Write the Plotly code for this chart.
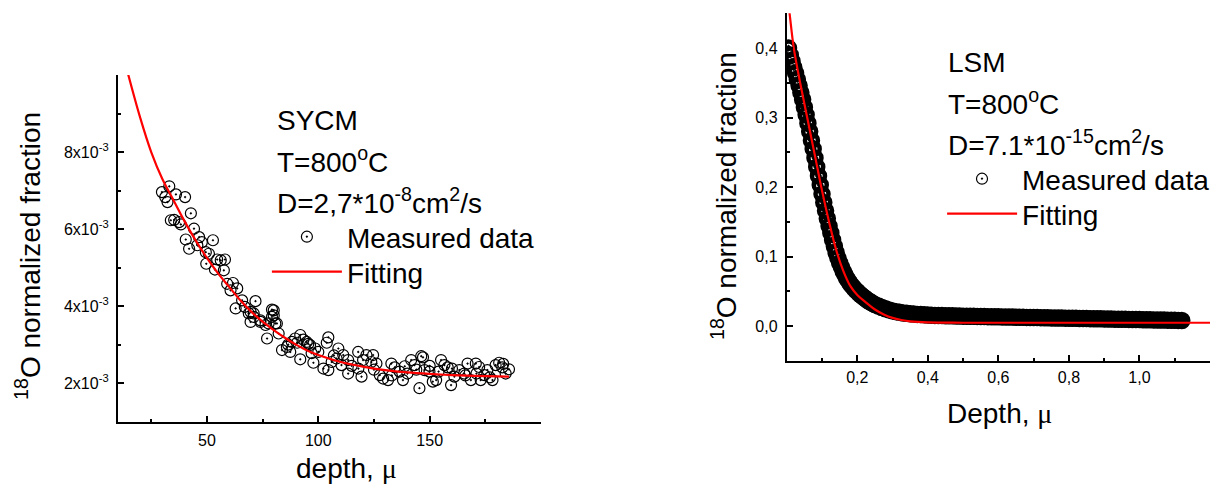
import plotly.graph_objects as go

# ---------------- Left panel: SYCM ----------------
sycm_depth = [29.8, 31.3, 32.3, 33.1, 33.8, 35.3, 36.1, 37.5, 38.3, 40.2, 40.5, 42.0, 42.8, 44.2,
              45.7, 46.5, 47.7, 49.5, 49.7, 50.9, 52.7, 53.6, 54.6, 56.2, 57.6, 58.1, 59.1, 60.6,
              61.7, 62.9, 63.6, 65.8, 67.0, 68.8, 69.6, 69.6, 71.0, 71.0, 71.8, 74.0, 74.0, 76.3,
              77.0, 77.7, 79.2, 79.2, 80.0, 80.0, 80.7, 81.4, 82.2, 83.7, 85.9, 86.5, 87.4, 88.1,
              89.6, 90.5, 91.9, 91.9, 93.3, 94.8, 95.5, 96.3, 97.0, 97.8, 98.6, 100.0, 102.3, 103.8,
              104.5, 104.5, 106.0, 107.0, 108.2, 109.0, 110.4, 111.2, 113.4, 113.4, 115.0, 117.9,
              118.0, 119.4, 120.1, 121.6, 123.8, 124.6, 125.0, 126.1, 127.6, 129.1, 131.3, 132.8,
              133.0, 134.3, 136.5, 138.0, 138.8, 140.0, 141.7, 143.2, 144.0, 145.4, 146.2, 147.0,
              147.7, 149.9, 150.0, 151.4, 152.9, 154.0, 155.1, 156.6, 158.1, 159.6, 160.0, 161.1,
              163.3, 165.5, 166.0, 167.0, 168.5, 170.7, 171.0, 172.2, 172.9, 174.5, 175.9, 177.0,
              178.2, 179.6, 181.2, 182.6, 183.0, 184.1, 185.6]
sycm_frac = [6.96e-3, 6.83e-3, 6.70e-3, 7.11e-3, 6.23e-3, 6.24e-3, 6.90e-3, 6.18e-3, 6.12e-3, 6.83e-3,
             5.73e-3, 5.49e-3, 6.41e-3, 6.01e-3, 5.58e-3, 5.79e-3, 5.66e-3, 5.40e-3, 5.10e-3, 5.36e-3,
             5.71e-3, 4.95e-3, 5.21e-3, 5.19e-3, 4.93e-3, 5.21e-3, 4.58e-3, 4.41e-3, 4.60e-3, 3.94e-3,
             4.46e-3, 4.15e-3, 3.98e-3, 3.81e-3, 3.59e-3, 3.85e-3, 3.81e-3, 3.72e-3, 4.13e-3, 3.63e-3,
             3.59e-3, 3.51e-3, 3.16e-3, 3.55e-3, 3.72e-3, 3.91e-3, 3.89e-3, 3.76e-3, 3.55e-3, 3.55e-3,
             3.29e-3, 2.86e-3, 2.94e-3, 3.00e-3, 2.81e-3, 3.07e-3, 3.16e-3, 3.05e-3, 3.25e-3, 2.62e-3,
             3.13e-3, 3.07e-3, 3.02e-3, 2.99e-3, 2.78e-3, 2.53e-3, 2.90e-3, 2.81e-3, 2.38e-3, 3.05e-3,
             3.19e-3, 2.34e-3, 2.55e-3, 2.72e-3, 2.64e-3, 2.90e-3, 2.47e-3, 2.73e-3, 2.60e-3, 2.25e-3,
             2.45e-3, 2.81e-3, 2.38e-3, 2.17e-3, 2.60e-3, 2.73e-3, 2.55e-3, 2.73e-3, 2.35e-3, 2.51e-3,
             2.21e-3, 2.12e-3, 2.08e-3, 2.51e-3, 2.20e-3, 2.41e-3, 2.30e-3, 2.08e-3, 2.44e-3, 2.25e-3,
             2.60e-3, 2.47e-3, 2.35e-3, 1.87e-3, 2.70e-3, 2.67e-3, 2.34e-3, 2.30e-3, 2.45e-3, 2.04e-3,
             2.08e-3, 2.30e-3, 2.60e-3, 2.47e-3, 2.41e-3, 1.95e-3, 2.38e-3, 2.17e-3, 2.34e-3, 2.25e-3,
             2.20e-3, 2.51e-3, 2.08e-3, 2.51e-3, 2.25e-3, 2.42e-3, 2.08e-3, 2.21e-3, 2.34e-3, 2.15e-3,
             2.08e-3, 2.47e-3, 2.53e-3, 2.41e-3, 2.50e-3, 2.25e-3, 2.36e-3]

sycm_fit_depth = [13.8, 20, 25, 30, 35, 40, 45, 50, 55, 60, 65, 70, 75, 80, 85, 90, 95, 100,
                  110, 120, 130, 140, 150, 160, 170, 185.6]
sycm_fit_frac = [10.2e-3, 8.9e-3, 8.0e-3, 7.3e-3, 6.75e-3, 6.2e-3, 5.7e-3, 5.25e-3, 4.85e-3, 4.5e-3,
                 4.15e-3, 3.85e-3, 3.6e-3, 3.38e-3, 3.18e-3, 3.0e-3, 2.85e-3, 2.73e-3, 2.55e-3,
                 2.43e-3, 2.34e-3, 2.28e-3, 2.24e-3, 2.21e-3, 2.19e-3, 2.17e-3]

sycm_yticks = [2e-3, 4e-3, 6e-3, 8e-3]
sycm_yticktext = ["2x10<sup>-3</sup>", "4x10<sup>-3</sup>", "6x10<sup>-3</sup>", "8x10<sup>-3</sup>"]
sycm_yminor = [3e-3, 5e-3, 7e-3, 9e-3]
sycm_xticks = [50, 100, 150]
sycm_xminor = [25, 75, 125, 175]

# ---------------- Right panel: LSM ----------------
lsm_depth = [0.005, 0.010, 0.015, 0.020, 0.025, 0.030, 0.035, 0.040, 0.045, 0.050,
             0.055, 0.060, 0.065, 0.070, 0.075, 0.080, 0.085, 0.090, 0.095, 0.100,
             0.105, 0.110, 0.115, 0.120, 0.125, 0.130, 0.135, 0.140, 0.145, 0.150,
             0.155, 0.160, 0.165, 0.170, 0.175, 0.180, 0.185, 0.190, 0.195, 0.200,
             0.205, 0.210, 0.215, 0.220, 0.225, 0.230, 0.235, 0.240, 0.245, 0.250,
             0.26, 0.27, 0.28, 0.29, 0.30, 0.31, 0.32, 0.33, 0.34, 0.35,
             0.36, 0.37, 0.38, 0.39, 0.40, 0.41, 0.42, 0.43, 0.44, 0.45,
             0.46, 0.47, 0.48, 0.49, 0.50, 0.51, 0.52, 0.53, 0.54, 0.55,
             0.56, 0.57, 0.58, 0.59, 0.60, 0.61, 0.62, 0.63, 0.64, 0.65,
             0.66, 0.67, 0.68, 0.69, 0.70, 0.71, 0.72, 0.73, 0.74, 0.75,
             0.76, 0.77, 0.78, 0.79, 0.80, 0.81, 0.82, 0.83, 0.84, 0.85,
             0.86, 0.87, 0.88, 0.89, 0.90, 0.91, 0.92, 0.93, 0.94, 0.95,
             0.96, 0.97, 0.98, 0.99, 1.00, 1.01, 1.02, 1.03, 1.04, 1.05,
             1.06, 1.07, 1.08, 1.09, 1.10, 1.11, 1.12]
lsm_frac = [0.400, 0.390, 0.381, 0.372, 0.364, 0.355, 0.346, 0.336, 0.326, 0.315,
            0.304, 0.292, 0.280, 0.267, 0.255, 0.242, 0.229, 0.216, 0.203, 0.190,
            0.178, 0.166, 0.155, 0.144, 0.134, 0.124, 0.115, 0.106, 0.098, 0.091,
            0.085, 0.079, 0.074, 0.069, 0.065, 0.061, 0.058, 0.055, 0.052, 0.050,
            0.047, 0.045, 0.043, 0.041, 0.039, 0.037, 0.0355, 0.034, 0.0325, 0.031,
            0.029, 0.027, 0.025, 0.0235, 0.022, 0.021, 0.020, 0.019, 0.0185, 0.018,
            0.0175, 0.0170, 0.0168, 0.0164, 0.0160, 0.0158, 0.0156, 0.0154, 0.0153, 0.0151,
            0.0150, 0.0149, 0.0147, 0.0146, 0.0145, 0.0144, 0.0143, 0.0142, 0.0141, 0.0140,
            0.0139, 0.0138, 0.0137, 0.0136, 0.0135, 0.0134, 0.0133, 0.0132, 0.0131, 0.0130,
            0.0129, 0.0128, 0.0127, 0.0126, 0.0125, 0.0124, 0.0123, 0.0122, 0.0121, 0.0120,
            0.0119, 0.0118, 0.0117, 0.0116, 0.0115, 0.0114, 0.0113, 0.0112, 0.0111, 0.0110,
            0.0109, 0.0108, 0.0107, 0.0106, 0.0105, 0.0104, 0.0103, 0.0102, 0.0101, 0.0100,
            0.0099, 0.0098, 0.0097, 0.0096, 0.0095, 0.0094, 0.0093, 0.0092, 0.0091, 0.0090,
            0.0089, 0.0088, 0.0087, 0.0086, 0.0085, 0.0084, 0.0083]

lsm_fit_depth = [0.003, 0.008, 0.02, 0.04, 0.06, 0.08, 0.10, 0.12, 0.14, 0.16, 0.18, 0.20,
                 0.225, 0.25, 0.275, 0.30, 0.325, 0.35, 0.40, 0.50, 0.70, 1.20]
lsm_fit_frac = [0.47, 0.45, 0.40, 0.345, 0.295, 0.245, 0.195, 0.15, 0.11, 0.08, 0.058, 0.045,
                0.034, 0.024, 0.017, 0.012, 0.009, 0.007, 0.0055, 0.005, 0.005, 0.005]

lsm_xticks = [0.2, 0.4, 0.6, 0.8, 1.0]
lsm_xticktext = ["0,2", "0,4", "0,6", "0,8", "1,0"]
lsm_xminor = [0.1, 0.3, 0.5, 0.7, 0.9, 1.1]
lsm_yticks = [0.0, 0.1, 0.2, 0.3, 0.4]
lsm_yticktext = ["0,0", "0,1", "0,2", "0,3", "0,4"]
lsm_yminor = [0.05, 0.15, 0.25, 0.35]

FONT = "Liberation Sans"
W, H = 1215, 484

fig = go.Figure()
fig.add_trace(go.Scatter(x=sycm_depth, y=sycm_frac, mode="markers", name="Measured data",
                         marker=dict(symbol="circle-open-dot", size=11, color="black",
                                     line=dict(color="black", width=1.2)),
                         xaxis="x", yaxis="y", legend="legend"))
fig.add_trace(go.Scatter(x=sycm_fit_depth, y=sycm_fit_frac, mode="lines", name="Fitting",
                         line=dict(color="#ff0000", width=2.2, shape="spline"),
                         xaxis="x", yaxis="y", legend="legend3"))
# dense LSM data: drawn heavy so overlapping circles merge as in the original
fig.add_trace(go.Scatter(x=lsm_depth, y=lsm_frac, mode="markers", name="Measured data",
                         marker=dict(symbol="circle-open-dot", size=13, color="black",
                                     line=dict(color="black", width=4.5)),
                         xaxis="x2", yaxis="y2", showlegend=False))
# legend entry for the LSM data with the thin circle style
fig.add_trace(go.Scatter(x=[None], y=[None], mode="markers", name="Measured data",
                         marker=dict(symbol="circle-open-dot", size=11, color="black",
                                     line=dict(color="black", width=1.2)),
                         xaxis="x2", yaxis="y2", legend="legend2"))
fig.add_trace(go.Scatter(x=lsm_fit_depth, y=lsm_fit_frac, mode="lines", name="Fitting",
                         line=dict(color="#ff0000", width=2.2, shape="spline"),
                         xaxis="x2", yaxis="y2", legend="legend4"))

def ax(**kw):
    d = dict(showline=True, linecolor="black", linewidth=2, ticks="inside", ticklen=6,
             tickwidth=2, tickcolor="black", showgrid=False, zeroline=False,
             tickfont=dict(family=FONT, size=16, color="black"))
    d.update(kw)
    return d

def leg(px, py):
    return dict(x=px / W, y=1 - py / H, xanchor="left", yanchor="middle", bgcolor="rgba(0,0,0,0)",
                font=dict(family=FONT, size=28, color="black"), itemwidth=70, tracegroupgap=0)

fig.update_layout(
    width=W, height=H, margin=dict(l=0, r=0, t=0, b=0),
    paper_bgcolor="white", plot_bgcolor="white",
    xaxis=ax(domain=[118.3 / W, 543.3 / W], range=[10, 200], anchor="y",
             tickvals=sycm_xticks, ticklabelstandoff=3,
             minor=dict(tickvals=sycm_xminor, ticks="inside", ticklen=3, tickwidth=2, tickcolor="black")),
    yaxis=ax(domain=[1 - 421.7 / H, 1 - 75 / H], range=[1e-3, 10e-3], anchor="x",
             tickvals=sycm_yticks, ticktext=sycm_yticktext, ticklabelstandoff=4,
             minor=dict(tickvals=sycm_yminor, ticks="inside", ticklen=3, tickwidth=2, tickcolor="black")),
    xaxis2=ax(domain=[790 / W, 1.0], range=[0, 1.2], anchor="y2",
              tickvals=lsm_xticks, ticktext=lsm_xticktext, ticklabelstandoff=1,
              minor=dict(tickvals=lsm_xminor, ticks="inside", ticklen=3, tickwidth=2, tickcolor="black")),
    yaxis2=ax(domain=[1 - 361 / H, 1 - 13.3 / H], range=[-0.05, 0.45], anchor="x2",
              tickvals=lsm_yticks, ticktext=lsm_yticktext, ticklabelstandoff=4,
              minor=dict(tickvals=lsm_yminor, ticks="inside", ticklen=3, tickwidth=2, tickcolor="black")),
    legend=leg(268, 237),
    legend3=leg(268, 272),
    legend2=leg(946, 179),
    legend4=leg(946, 214),
    showlegend=True,
)

def note(text, px, py, size=28, angle=0, xanchor="left"):
    fig.add_annotation(text=text, x=px / W, y=1 - py / H, xref="paper", yref="paper",
                       xanchor=xanchor, yanchor="middle", showarrow=False, textangle=angle,
                       font=dict(family=FONT, size=size, color="black"))

MU = '<span style="font-family:Liberation Serif">\u03bc</span>'
# left panel texts
note("SYCM", 276, 120)
note("T=800<sup>o</sup>C", 276, 160)
note("D=2,7*10<sup>-8</sup>cm<sup>2</sup>/s", 276, 201)
note("depth, " + MU, 348, 468, xanchor="center")
note("<sup>18</sup>O normalized fraction", 28, 256, angle=-90, xanchor="center")
# right panel texts
note("LSM", 950, 62)
note("T=800<sup>o</sup>C", 950, 102)
note("D=7.1*10<sup>-15</sup>cm<sup>2</sup>/s", 950, 143)
note("Depth, " + MU, 1004, 413, xanchor="center")
note("<sup>18</sup>O normalized fraction", 727, 196, angle=-90, xanchor="center")

fig.write_html("out.html")
